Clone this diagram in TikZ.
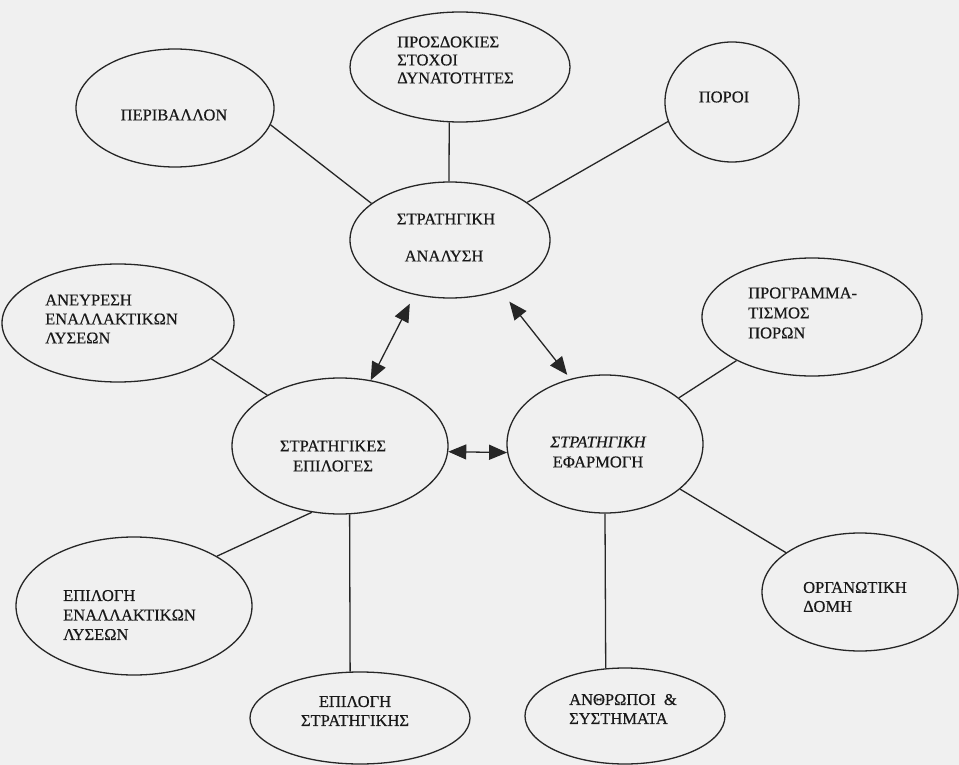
\documentclass[tikz,border=0pt]{standalone}
\usepackage{fontspec}
\setmainfont{Liberation Serif}[FakeBold=0.5]
\usetikzlibrary{shapes.geometric,arrows.meta}
\begin{document}
\begin{tikzpicture}[x=1pt,y=-1pt,
  bubble/.style={draw=black!85,line width=1.3pt,ellipse,inner sep=0pt},
  lbl/.style={inner sep=0pt,text=black!90,font=\fontsize{16.5}{19}\selectfont},
  link/.style={draw=black!85,line width=1.3pt},
  dbl/.style={draw=black!85,line width=1.3pt,{Triangle[length=18pt,width=15pt]}-{Triangle[length=18pt,width=15pt]}}]
\fill[black!6] (0,0) rectangle (959,765);
\useasboundingbox (0,0) rectangle (959,765);
% ellipses
\node[bubble,minimum width=220pt,minimum height=110pt] (pro) at (460,67) {};
\node[bubble,minimum width=200pt,minimum height=116pt] (ana) at (450,240) {};
\node[bubble,minimum width=198pt,minimum height=118pt] (peri) at (175,108) {};
\node[bubble,minimum width=134pt,minimum height=120pt] (poroi) at (732,102) {};
\node[bubble,minimum width=232pt,minimum height=118pt] (ane) at (118,323) {};
\node[bubble,minimum width=216pt,minimum height=136pt] (epi) at (340,446) {};
\node[bubble,minimum width=196pt,minimum height=138pt] (efa) at (605,444) {};
\node[bubble,minimum width=220pt,minimum height=118pt] (prog) at (812,317) {};
\node[bubble,minimum width=236pt,minimum height=138pt] (epe) at (134,606) {};
\node[bubble,minimum width=220pt,minimum height=92pt] (epst) at (360,718) {};
\node[bubble,minimum width=200pt,minimum height=96pt] (anth) at (625,716) {};
\node[bubble,minimum width=196pt,minimum height=118pt] (org) at (860,592) {};
% texts
\node[lbl,anchor=west,align=left,font=\fontsize{16.5}{18}\selectfont] (tpro) at (397,60) {ΠΡΟΣΔΟΚΙΕΣ\\ΣΤΟΧΟΙ\\ΔΥΝΑΤΟΤΗΤΕΣ};
\node[lbl] (tana1) at (446,219) {ΣΤΡΑΤΗΓΙΚΗ};
\node[lbl] (tana2) at (444,256) {ΑΝΑΛΥΣΗ};
\node[lbl] (tperi) at (174,115) {ΠΕΡΙΒΑΛΛΟΝ};
\node[lbl] (tporoi) at (724,97) {ΠΟΡΟΙ};
\node[lbl,anchor=west,align=left] (tane) at (45,319) {ΑΝΕΥΡΕΣΗ\\ΕΝΑΛΛΑΚΤΙΚΩΝ\\ΛΥΣΕΩΝ};
\node[lbl,align=center,font=\fontsize{16.5}{20}\selectfont] (tepi) at (333,456) {ΣΤΡΑΤΗΓΙΚΕΣ\\ΕΠΙΛΟΓΕΣ};
\node[lbl,align=center,font=\fontsize{16.5}{20}\selectfont] (tefa) at (598,452) {\itshape ΣΤΡΑΤΗΓΙΚΗ\\ΕΦΑΡΜΟΓΗ};
\node[lbl,anchor=west,align=left,font=\fontsize{16.5}{20}\selectfont] (tprog) at (748,313) {ΠΡΟΓΡΑΜΜΑ-\\ΤΙΣΜΟΣ\\ΠΟΡΩΝ};
\node[lbl,anchor=west,align=left,font=\fontsize{16.5}{19.5}\selectfont] (tepe) at (63,615) {ΕΠΙΛΟΓΗ\\ΕΝΑΛΛΑΚΤΙΚΩΝ\\ΛΥΣΕΩΝ};
\node[lbl,align=center] (tepst) at (355,711) {ΕΠΙΛΟΓΗ\\ΣΤΡΑΤΗΓΙΚΗΣ};
\node[lbl,anchor=west,align=left] (torg) at (803,597) {ΟΡΓΑΝΩΤΙΚΗ\\ΔΟΜΗ};
\node[lbl,anchor=west,align=left] (tanth) at (569,709) {ΑΝΘΡΩΠΟΙ\ \ \&\\ΣΥΣΤΗΜΑΤΑ};
% plain links
\draw[link] (pro.-101) -- (ana.91);
\draw[link] (peri.-10) -- (ana.155);
\draw[link] (poroi.197) -- (ana.26);
\draw[link] (ane.-21.5) -- (epi.145);
\draw[link] (epi.247) -- (epe.31.6);
\draw[link] (epi.-82) -- (epst.102.6);
\draw[link] (efa.32) -- (prog.210);
\draw[link] (efa.-31.6) -- (org.152.5);
\draw[link] (efa.-90) -- (anth.112);
% double arrows
\draw[dbl,shorten <=10pt] (ana.237.6) -- (epi.65.1);
\draw[dbl,shorten <=14pt,shorten >=5pt] (ana.-45) -- (efa.118.8);
\draw[dbl] (epi.-3.7) -- (efa.185.3);
\end{tikzpicture}
\end{document}
